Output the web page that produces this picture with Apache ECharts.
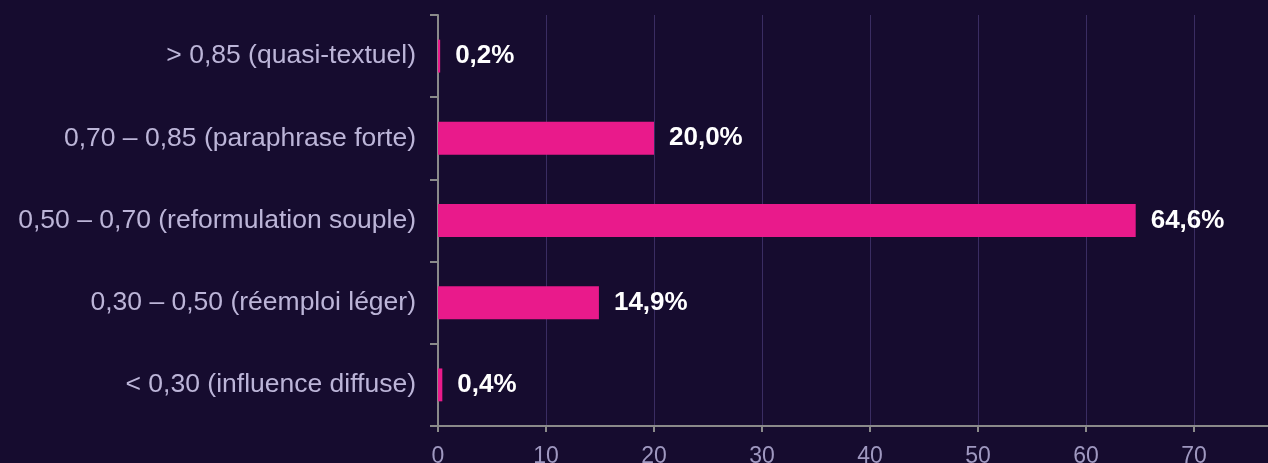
<!DOCTYPE html>
<html>
<head>
<meta charset="utf-8">
<script src="https://cdn.jsdelivr.net/npm/echarts@6/dist/echarts.min.js"></script>
<style>
  html, body { margin: 0; padding: 0; background: #160c2f; }
  #main { width: 1268px; height: 463px; }
</style>
</head>
<body>
<div id="main"></div>
<script>
// categories from bottom to top (ECharts draws category y axis upwards)
var categories = [
  "< 0,30 (influence diffuse)",
  "0,30 – 0,50 (réemploi léger)",
  "0,50 – 0,70 (reformulation souple)",
  "0,70 – 0,85 (paraphrase forte)",
  "> 0,85 (quasi-textuel)"
];
var shares = [0.4, 14.9, 64.6, 20.0, 0.2];
var xTicks = [0, 10, 20, 30, 40, 50, 60, 70];

var myChart = echarts.init(document.getElementById("main"));

// the axis runs past the last tick up to the right edge of the window
var xMax = 76.85;

var option = {
  backgroundColor: "#160c2f",
  textStyle: { fontFamily: "Liberation Sans, Arial, sans-serif" },
  grid: { left: 438, right: 0, top: 15, bottom: 37, containLabel: false, outerBoundsMode: "none" },
  xAxis: {
    type: "value",
    min: xTicks[0],
    max: xMax,
    interval: 10,
    axisLine: { show: true, lineStyle: { color: "#8a8a8a", width: 2 } },
    axisTick: { show: true, length: 6, lineStyle: { color: "#8a8a8a", width: 2 } },
    axisLabel: {
      color: "#9f98c0", fontSize: 23, margin: 19, showMaxLabel: false,
      formatter: function (v) { return xTicks.indexOf(v) >= 0 ? String(v) : ""; }
    },
    splitLine: { show: true, lineStyle: { color: "#3a2d62", width: 1 } }
  },
  yAxis: {
    type: "category",
    data: categories,
    axisLine: { show: true, lineStyle: { color: "#8a8a8a", width: 2 } },
    axisTick: { show: true, length: 8, lineStyle: { color: "#8a8a8a", width: 2 } },
    axisLabel: { color: "#bcb5d8", fontSize: 26.5, margin: 22 },
    splitLine: { show: false }
  },
  series: [{
    type: "bar",
    data: shares,
    barWidth: "40%",
    itemStyle: { color: "#e91a8b" },
    label: {
      show: true,
      position: "right",
      distance: 15,
      color: "#ffffff",
      fontWeight: "bold",
      fontSize: 26,
      formatter: function (p) {
        return p.value.toFixed(1).replace(".", ",") + "%";
      }
    }
  }]
};

myChart.setOption(option);
</script>
</body>
</html>
